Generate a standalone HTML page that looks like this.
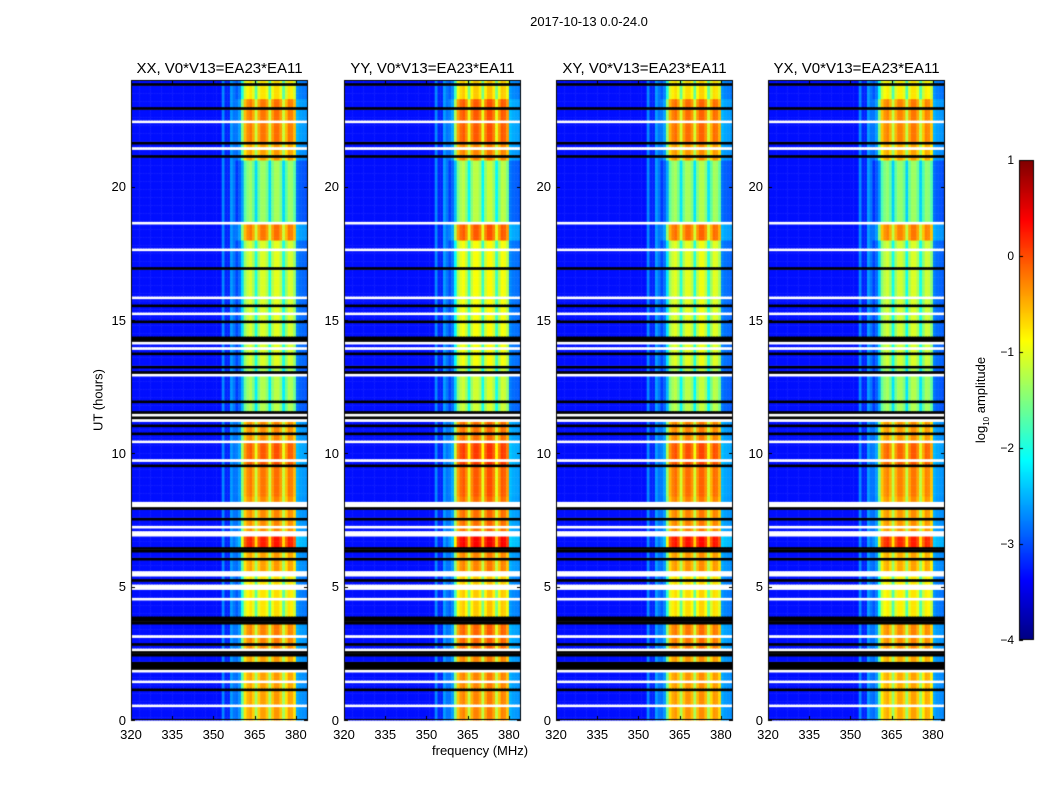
<!DOCTYPE html>
<html><head><meta charset="utf-8">
<style>
body{margin:0;background:#fff;}
#wrap{position:relative;width:1050px;height:800px;font-family:"Liberation Sans",sans-serif;color:#000;overflow:hidden;}
.t{position:absolute;white-space:nowrap;}
canvas{position:absolute;left:0;top:0;}
</style></head>
<body>
<div id="wrap">
<canvas id="cv" width="1050" height="800"></canvas>
<div class="t" style="left:0;width:1178px;top:14px;font-size:13px;text-align:center">2017-10-13 0.0-24.0</div>
<div id="labels"></div>
<div class="t" style="left:432px;top:743px;font-size:13px">frequency (MHz)</div>
<div class="t" style="left:98px;top:400px;font-size:13px;transform:translate(-50%,-50%) rotate(-90deg)">UT (hours)</div>
<div class="t" style="left:982px;top:400px;font-size:13px;transform:translate(-50%,-50%) rotate(-90deg)">log<sub style="font-size:8px">10</sub> amplitude</div>
</div>
<script>
// ---- data ----
const panelTitles=["XX, V0*V13=EA23*EA11","YY, V0*V13=EA23*EA11","XY, V0*V13=EA23*EA11","YX, V0*V13=EA23*EA11"];
const panelLeft=[131,344,556,768];
const panelOffset=[0,0.15,0.05,-0.05];
const xTicks=[320,335,350,365,380];
const yTicks=[0,5,10,15,20];
const cbTicks=[1,0,-1,-2,-3,-4];
const segStart=[0,2.5,3.9,5.6,6.5,6.9,7.5,8.4,9.5,10.5,11.5,13.2,18.0,18.7,21.0,21.7,23.3];
const segBand=[-0.35,-0.2,-0.7,-0.35,0.3,-0.25,-0.25,-0.15,0.0,-0.25,-1.2,-1.0,-0.15,-1.3,-0.35,-0.15,-0.7];
const whiteRows=[23.6,22.5,21.5,21.6,18.7,17.7,16.6,16.3,15.9,15.3,14.2,14.0,13.0,11.5,11.3,10.5,9.8,8.2,8.1,7.3,7.0,5.5,5.6,5.0,4.6,3.1,2.6,1.9,1.5,0.6];
const blackRows=[23.9,23.0,21.7,21.2,20.1,18.6,17.6,17.0,16.8,16.1,15.6,15.0,14.4,14.3,13.8,13.3,13.1,12.0,11.6,11.4,11.1,10.8,9.6,8.0,7.6,7.1,6.4,6.1,5.3,3.9,3.8,3.7,3.6,2.9,2.5,2.1,2.0,1.6,1.2];
// background level per MHz, 320..359
const bgLevel=[-3.3,-3.3,-3.3,-3.3,-3.3,-3.3,-3.3,-3.3,-3.3,-3.3,-3.3,-3.3,-3.3,-3.3,-3.3,-3.3,-3.3,-3.3,-3.3,-3.3,-3.3,-3.3,-3.3,-3.3,-3.3,-3.3,-3.3,-3.3,-3.3,-3.3,-3.3,-3.3,-3.3,-2.7,-3.2,-3.2,-2.6,-2.8,-3.1,-2.9];
// band offsets per MHz, 360..383
const bandOffset=[-1.3,-0.4,-0.15,-0.05,-0.3,-1.0,-0.3,-0.05,-0.05,-0.25,-1.0,-0.25,0.0,0.0,-0.25,-1.0,-0.4,-0.05,-0.1,-0.4,-1.3,-1.6,-1.7,-1.8];

const X0=320,X1=384.4,T1=24,PW=177,PT=80,PB=720;
function xs(p,f){return panelLeft[p]+(f-X0)/(X1-X0)*PW;}
function ys(h){return PB-h/T1*(PB-PT);}
function jet(v){let t=(v+4)/5;t=Math.max(0,Math.min(1,t));
 const c=x=>Math.max(0,Math.min(1,1.5-Math.abs(4*t-x)));
 return `rgb(${Math.round(255*c(3))},${Math.round(255*c(2))},${Math.round(255*c(1))})`;}
function bandAt(h){let b=segBand[0];for(let i=0;i<segStart.length;i++)if(h>=segStart[i])b=segBand[i];return b;}
const cv=document.getElementById('cv'),ctx=cv.getContext('2d');
const lab=document.getElementById('labels');
function addLabel(txt,x,y,size,align,name){const d=document.createElement('div');d.className='t';d.textContent=txt;
 d.style.fontSize=size+'px';d.style.top=(y-size/2-1)+'px';
 if(align==='c'){d.style.left=x+'px';d.style.transform='translateX(-50%)';}
 else if(align==='r'){d.style.right=(1050-x)+'px';}else d.style.left=x+'px';
 
 
 lab.appendChild(d);}
const dt=0.1;
for(let p=0;p<4;p++){
 for(let r=0;r<240;r++){
  const h=r*dt, hc=h+dt/2;
  const y0=ys(h+dt),y1=ys(h);
  const isW=whiteRows.some(w=>Math.abs(w-hc)<0.05), isB=blackRows.some(w=>Math.abs(w-hc)<0.05);
  if(isW){ctx.fillStyle='#fff';ctx.fillRect(panelLeft[p],y0,PW,y1-y0+0.5);continue;}
  if(isB){ctx.fillStyle='#000';ctx.fillRect(panelLeft[p],y0,PW,y1-y0+0.5);continue;}
  const band=bandAt(hc)+panelOffset[p];
  for(let f=320;f<384;f++){
   let v;
   if(f<360){v=bgLevel[f-320];if(f>=358)v+=0.3*(band+1.2);}
   else if(f<380)v=band+bandOffset[f-360];
   else v=-2.8+0.3*(band+1.2)+(bandOffset[f-360]+1.3)*0.3;
   ctx.fillStyle=jet(v);
   ctx.fillRect(xs(p,f),y0,xs(p,f+1)-xs(p,f)+0.5,y1-y0+0.5);
  }
 }
 ctx.strokeStyle='#000';ctx.lineWidth=1;
 ctx.strokeRect(panelLeft[p]+0.5,PT+0.5,PW-1,PB-PT-1);
 for(const t of xTicks){const x=Math.round(xs(p,t))+0.5;ctx.beginPath();ctx.moveTo(x,PB);ctx.lineTo(x,PB-4);ctx.moveTo(x,PT);ctx.lineTo(x,PT+4);ctx.stroke();
  addLabel(String(t),xs(p,t),PB+14,13,'c','x-tick-label');}
 for(const t of yTicks){const y=Math.round(ys(t))+0.5;ctx.beginPath();ctx.moveTo(panelLeft[p],y);ctx.lineTo(panelLeft[p]+4,y);ctx.moveTo(panelLeft[p]+PW,y);ctx.lineTo(panelLeft[p]+PW-4,y);ctx.stroke();
  addLabel(String(t),panelLeft[p]-5,ys(t),13,'r','y-tick-label');}
 addLabel(panelTitles[p],panelLeft[p]+PW/2,68,15,'c','panel-title');
}
// colorbar
const CX=1019,CW=15,CT=160,CB=640;
for(let y=CT;y<CB;y++){const v=1-(y-CT)/(CB-CT)*5;ctx.fillStyle=jet(v);ctx.fillRect(CX,y,CW,1);}
ctx.strokeStyle='#000';ctx.strokeRect(CX+0.5,CT+0.5,CW-1,CB-CT-1);
for(const t of cbTicks){const y=CT+(1-t)/5*(CB-CT);ctx.beginPath();ctx.moveTo(CX,Math.round(y)+0.5);ctx.lineTo(CX+4,Math.round(y)+0.5);ctx.stroke();
 addLabel(t<0?'\u2212'+(-t):String(t),CX-5,y,12,'r','colorbar-tick-label');}
</script>
</body></html>
